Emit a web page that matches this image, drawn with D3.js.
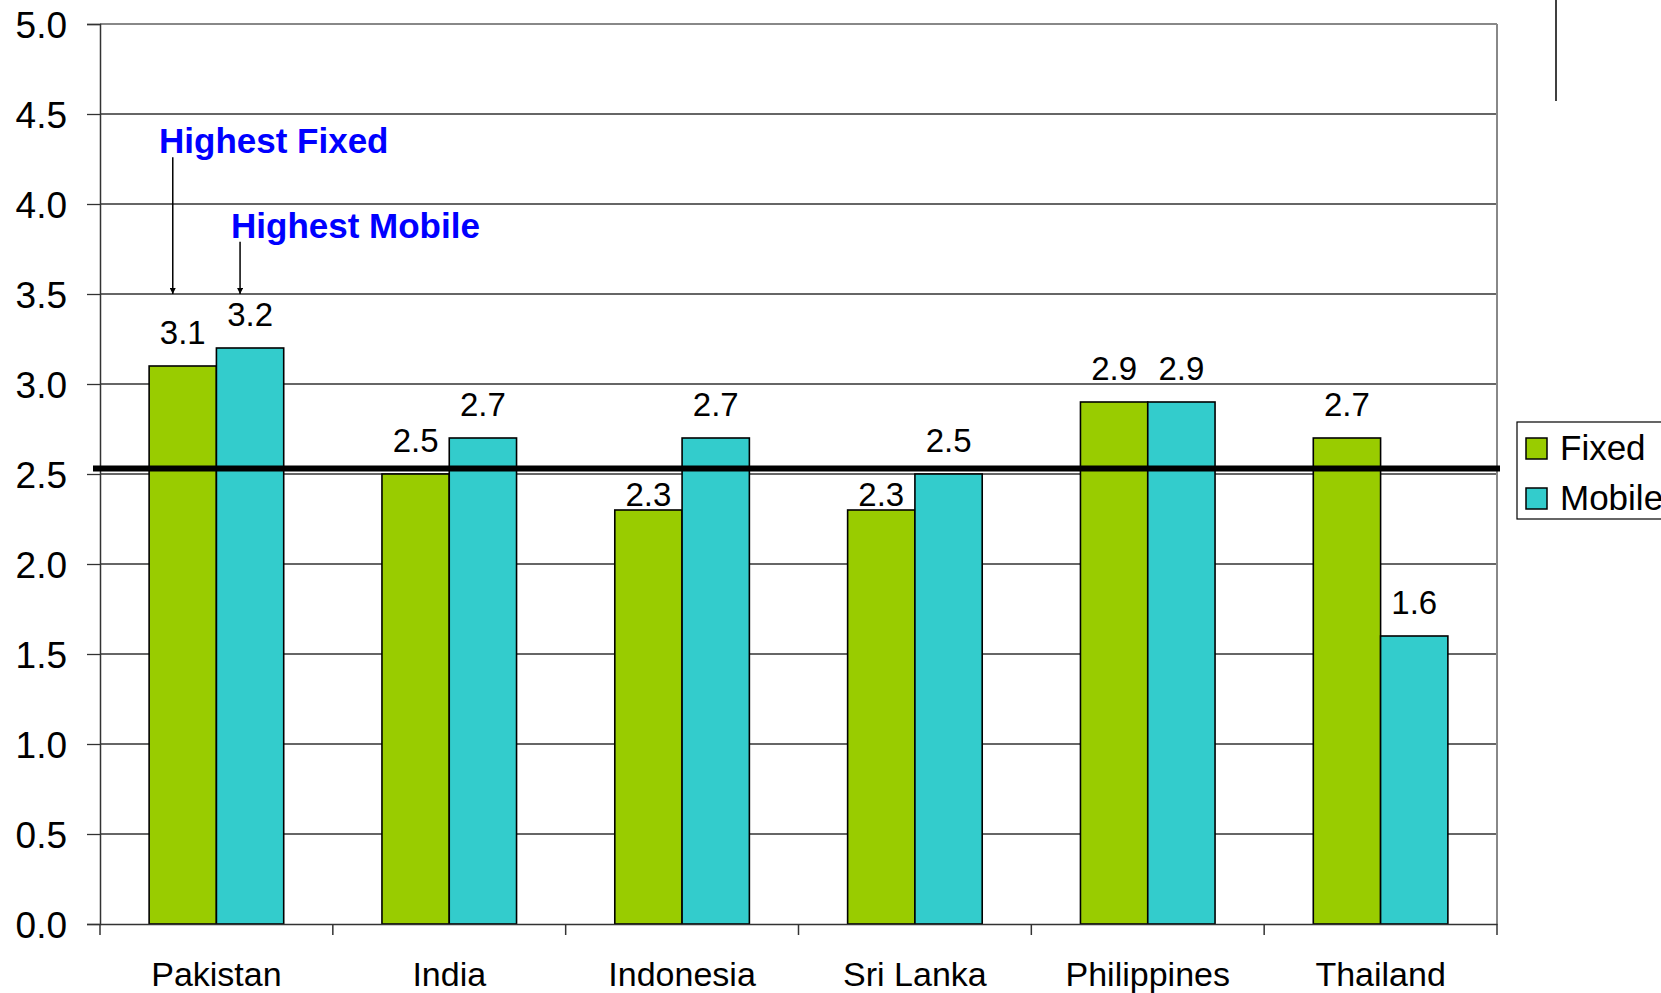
<!DOCTYPE html>
<html>
<head>
<meta charset="utf-8">
<script src="https://cdn.jsdelivr.net/npm/d3@7/dist/d3.min.js"></script>
<style>
  body{margin:0;background:#fff;}
  svg{display:block;font-family:"Liberation Sans",Arial,sans-serif;}
</style>
</head>
<body>
<svg></svg>
<script>
var countries=["Pakistan","India","Indonesia","Sri Lanka","Philippines","Thailand"];
var seriesNames=["Fixed","Mobile"];
var fixedValues=[3.1,2.5,2.3,2.3,2.9,2.7];
var mobileValues=[3.2,2.7,2.7,2.5,2.9,1.6];
var yTicks=[0,0.5,1,1.5,2,2.5,3,3.5,4,4.5,5];
var averageLine=2.53;
var notes=[{text:"Highest Fixed",country:"Pakistan",series:"Fixed",textY:4.283,arrowTop:4.26},
           {text:"Highest Mobile",country:"Pakistan",series:"Mobile",textY:3.81,arrowTop:3.79}];

var colors={Fixed:"#99cc00",Mobile:"#33cccc"};

var screen={width:1661,height:993};
var margins={top:24,left:100,right:164,bottom:69};
var boxWidth=screen.width-margins.left-margins.right;
var boxHeight=screen.height-margins.top-margins.bottom;

var rows=countries.map(function(c,i){
  return {country:c,Fixed:fixedValues[i],Mobile:mobileValues[i]};
});

var svg=d3.select("svg")
          .attr("width",screen.width)
          .attr("height",screen.height);

var xScale=d3.scaleBand()
             .domain(countries)
             .range([0,boxWidth])
             .padding(0);
var x1=d3.scaleBand()
         .domain(seriesNames)
         .range([0,xScale.bandwidth()])
         .paddingInner(0)
         .paddingOuter(0.73);
var yScale=d3.scaleLinear()
             .domain([0,5])
             .range([boxHeight,0]);

var plot=svg.append("g")
            .attr("transform","translate("+margins.left+","+margins.top+")");

// gridlines
plot.selectAll(".grid")
    .data(yTicks.slice(1))
    .enter()
    .append("line")
    .attr("x1",0)
    .attr("x2",boxWidth)
    .attr("y1",function(d){return yScale(d)})
    .attr("y2",function(d){return yScale(d)})
    .attr("stroke",function(d){return d==5?"#888":"#333"})
    .attr("stroke-width",function(d){return d==5?2:1.3});
plot.append("line")
    .attr("x1",boxWidth).attr("x2",boxWidth)
    .attr("y1",0).attr("y2",boxHeight)
    .attr("stroke","#888").attr("stroke-width",2);

// y axis
var yAxis=d3.axisLeft(yScale)
            .tickValues(yTicks)
            .tickSize(13)
            .tickPadding(20)
            .tickFormat(d3.format(".1f"));
var yG=plot.append("g").call(yAxis);
yG.select(".domain").attr("stroke","#333").attr("stroke-width",1.5);
yG.selectAll(".tick line").attr("stroke","#333").attr("stroke-width",1.3);
yG.selectAll("text").attr("font-size",37).attr("fill","#000")
  .attr("font-family","Liberation Sans, Arial, sans-serif").attr("dy","0.36em");

// bars
var groups=plot.selectAll(".grp")
               .data(rows)
               .enter()
               .append("g")
               .attr("transform",function(d){return "translate("+xScale(d.country)+",0)"});
groups.selectAll("rect")
      .data(function(d){return seriesNames.map(function(s){return {key:s,value:d[s]}})})
      .enter()
      .append("rect")
      .attr("x",function(d){return x1(d.key)})
      .attr("y",function(d){return yScale(d.value)})
      .attr("width",x1.bandwidth())
      .attr("height",function(d){return boxHeight-yScale(d.value)})
      .attr("fill",function(d){return colors[d.key]})
      .attr("stroke","#000")
      .attr("stroke-width",1.6);
// labels sit above the bar, but drop onto the bar when they would hit the average line
var lineY=yScale(averageLine);
groups.selectAll(".lbl")
      .data(function(d){return seriesNames.map(function(s){return {key:s,value:d[s]}})})
      .enter()
      .append("text")
      .attr("x",function(d){return x1(d.key)+x1.bandwidth()/2})
      .attr("y",function(d){
        var y=yScale(d.value)-22;
        if(y-24<lineY+3 && y>lineY-3) y=yScale(d.value)-4;
        return y;
      })
      .attr("text-anchor","middle")
      .attr("font-size",33)
      .text(function(d){return d3.format(".1f")(d.value)});

// x axis
var xAxis=d3.axisBottom(xScale).tickSize(0).tickPadding(38);
var xG=plot.append("g")
           .attr("transform","translate(0,"+boxHeight+")")
           .call(xAxis);
xG.select(".domain").attr("stroke","#333").attr("stroke-width",1.5);
xG.selectAll("text").attr("font-size",34).attr("fill","#000")
  .attr("font-family","Liberation Sans, Arial, sans-serif");
plot.selectAll(".xtick")
    .data(d3.range(countries.length+1))
    .enter()
    .append("line")
    .attr("x1",function(i){return i*xScale.step()})
    .attr("x2",function(i){return i*xScale.step()})
    .attr("y1",boxHeight)
    .attr("y2",boxHeight+11)
    .attr("stroke","#333")
    .attr("stroke-width",1.5);

// average line
plot.append("line")
    .attr("x1",-7)
    .attr("x2",boxWidth+3)
    .attr("y1",lineY)
    .attr("y2",lineY)
    .attr("stroke","#000")
    .attr("stroke-width",6);

// annotations
svg.append("defs").append("marker")
   .attr("id","arr")
   .attr("viewBox","0 0 10 10")
   .attr("refX",10).attr("refY",5)
   .attr("markerWidth",4).attr("markerHeight",4)
   .attr("orient","auto")
   .append("path").attr("d","M0,0L10,5L0,10z").attr("fill","#000");
notes.forEach(function(n){
  var cx=xScale(n.country)+x1(n.series)+x1.bandwidth()/2-10;
  plot.append("line")
      .attr("x1",cx).attr("x2",cx)
      .attr("y1",yScale(n.arrowTop))
      .attr("y2",yScale(3.5))
      .attr("stroke","#000")
      .attr("stroke-width",1.5)
      .attr("marker-end","url(#arr)");
});
plot.append("text")
    .attr("x",59).attr("y",yScale(notes[0].textY))
    .attr("font-size",35).attr("font-weight","bold").attr("fill","#0000ff")
    .text(notes[0].text);
plot.append("text")
    .attr("x",131).attr("y",yScale(notes[1].textY))
    .attr("font-size",35).attr("font-weight","bold").attr("fill","#0000ff")
    .text(notes[1].text);

// stray vertical line at top right
svg.append("line")
   .attr("x1",1556).attr("x2",1556)
   .attr("y1",0).attr("y2",101)
   .attr("stroke","#000").attr("stroke-width",1.5);

// legend
var legend=svg.append("g").attr("transform","translate(1517,422)");
legend.append("rect")
      .attr("x",0).attr("y",0)
      .attr("width",160).attr("height",97)
      .attr("fill","#fff").attr("stroke","#000").attr("stroke-width",1.2);
seriesNames.forEach(function(s,i){
  legend.append("rect")
        .attr("x",9).attr("y",16+i*50)
        .attr("width",21).attr("height",21)
        .attr("fill",colors[s]).attr("stroke","#000").attr("stroke-width",1.5);
  legend.append("text")
        .attr("x",43).attr("y",38+i*50)
        .attr("font-size",35)
        .text(s);
});
</script>
</body>
</html>
